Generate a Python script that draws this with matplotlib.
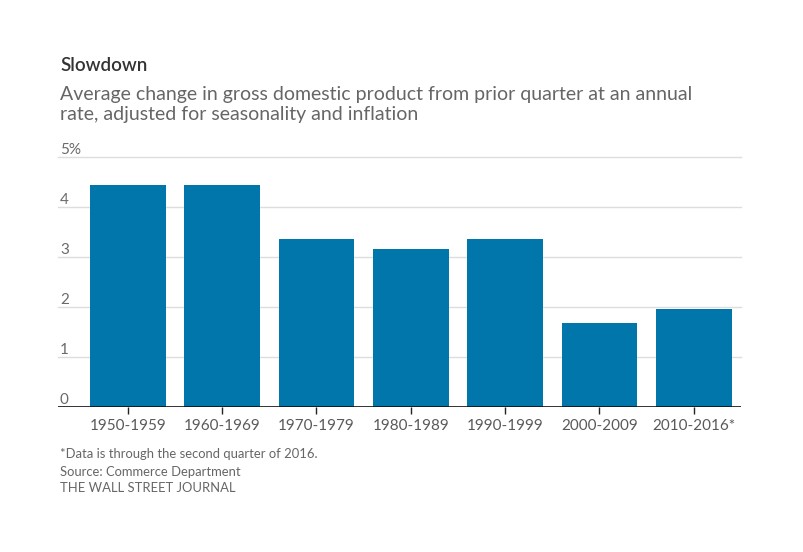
import matplotlib
matplotlib.use("Agg")
import matplotlib.pyplot as plt
import matplotlib.transforms as mtransforms

plt.rcParams['font.family'] = ['Lato', 'DejaVu Sans']

decadas = ['1950-1959', '1960-1969', '1970-1979', '1980-1989',
           '1990-1999', '2000-2009', '2010-2016*']
crecimiento = [4.45, 4.45, 3.37, 3.17, 3.37, 1.68, 1.97]
marcas_y = [0, 1, 2, 3, 4, 5]
etiquetas_y = ['0', '1', '2', '3', '4', '5%']

W, H = 804, 552
fig = plt.figure(figsize=(W / 100, H / 100), dpi=100)
ax = fig.add_axes([58 / W, 1 - 407 / H, (741 - 58) / W, (407 - 157.3) / H])

azul = '#0076AB'
ax.bar(range(len(decadas)), crecimiento, width=0.8, color=azul, zorder=3)

ax.set_xlim(-0.74, 6.5)
ax.set_ylim(0, 5)

# lineas de grilla
for v in marcas_y[1:]:
    ax.axhline(v, color='#dddddd', lw=1, zorder=1, clip_on=False)
ax.axhline(0, color='#111111', lw=1.2, zorder=4)

for s in ax.spines.values():
    s.set_visible(False)

ax.set_yticks([])
ax.set_xticks(range(len(decadas)))
ax.set_xticklabels(decadas, fontsize=11, color='#5a5a5a')
ax.tick_params(axis='x', length=5, width=1, color='#222222', pad=4)

# etiquetas del eje y encima de las lineas
trans = mtransforms.blended_transform_factory(fig.transFigure, ax.transData)
for v, t in zip(marcas_y, etiquetas_y):
    ax.text(60 / W, v, t, transform=trans, fontsize=11, color='#6a6a6a',
            ha='left', va='bottom')

def px(y):
    return 1 - y / H

fig.text(60 / W, px(71), 'Slowdown', fontsize=13.5, fontweight='semibold',
         color='#333333', va='baseline')
fig.text(60 / W, px(100), 'Average change in gross domestic product from prior quarter at an annual',
         fontsize=14, color='#666666', va='baseline')
fig.text(60 / W, px(120), 'rate, adjusted for seasonality and inflation',
         fontsize=14, color='#666666', va='baseline')

fig.text(60 / W, px(458), '*Data is through the second quarter of 2016.',
         fontsize=9.4, color='#666666', va='baseline')
fig.text(60 / W, px(475.5), 'Source: Commerce Department',
         fontsize=9.4, color='#666666', va='baseline')
fig.text(60 / W, px(492.5), 'THE WALL STREET JOURNAL',
         fontsize=9.4, color='#666666', va='baseline')

fig.savefig('out.png', dpi=100, facecolor='white')
